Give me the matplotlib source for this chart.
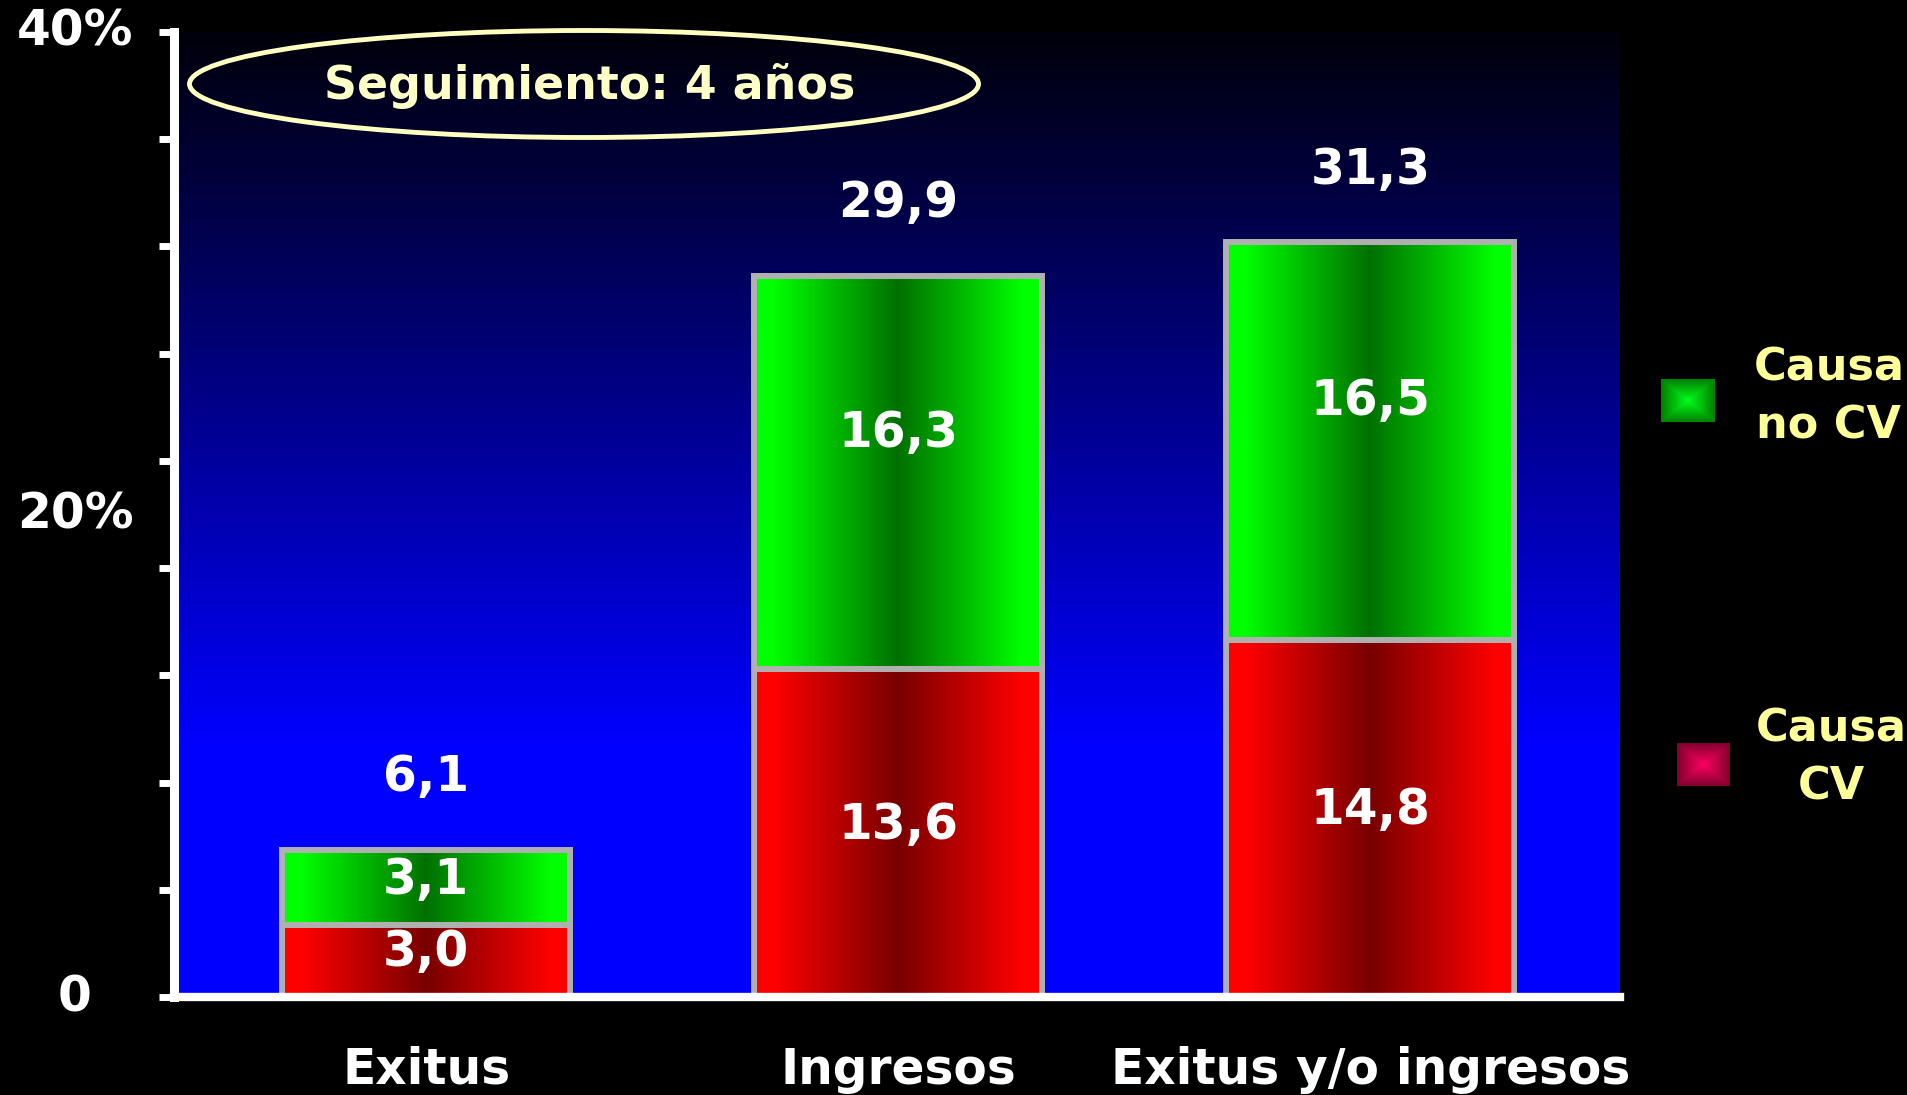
import numpy as np
import matplotlib
matplotlib.use("Agg")
import matplotlib.pyplot as plt
from matplotlib import transforms
from matplotlib.patches import Ellipse

# ---- data ----
categories = ["Exitus", "Ingresos", "Exitus y/o ingresos"]
causa_cv = [3.0, 13.6, 14.8]
causa_no_cv = [3.1, 16.3, 16.5]
totals = [6.1, 29.9, 31.3]
series_names = ["Causa\nCV", "Causa\nno CV"]
y_tick_values = [0, 20, 40]
y_tick_texts = ["0", "20%", "40%"]
title_text = "Seguimiento: 4 años"

plt.rcParams['font.family'] = ['DejaVu Sans']

W, H = 1908, 1095
fig = plt.figure(figsize=(W / 100, H / 100), dpi=100, facecolor='black')
ax = fig.add_axes([174 / W, 1 - 997 / H, (1620 - 174) / W, (997 - 32) / H])
ax.set_facecolor('black')

# background vertical gradient (dark navy top -> blue bottom)
t = np.linspace(0, 1, 400)  # 0 top -> 1 bottom
b = np.clip(0.04 + t * 1.3, 0, 1)
bg = np.zeros((400, 2, 3))
bg[:, :, 2] = b[:, None]
ax.imshow(bg, extent=[0, 1, 0, 1], transform=ax.transAxes, aspect='auto',
          zorder=0, interpolation='bilinear')


def hgrad(bright, dark, n=300):
    u = np.linspace(0, 1, n)
    d = np.clip(np.abs(u - 0.5) * 2 * 1.15, 0, 1)
    bright = np.array(bright); dark = np.array(dark)
    row = dark[None, :] + (bright - dark)[None, :] * d[:, None]
    return np.repeat(row[None, :, :], 2, axis=0)


red_grad = hgrad((1.0, 0.0, 0.0), (0.47, 0.0, 0.0))
green_grad = hgrad((0.0, 1.0, 0.0), (0.0, 0.44, 0.0))

x = np.arange(len(categories))
width = 0.61
edge = '#B0B0B0'
bars_cv = ax.bar(x, causa_cv, width, facecolor='none', edgecolor=edge,
                 linewidth=4.3, zorder=3)
bars_ncv = ax.bar(x, causa_no_cv, width, bottom=causa_cv, facecolor='none',
                  edgecolor=edge, linewidth=4.3, zorder=3)
for bars, grad in ((bars_cv, red_grad), (bars_ncv, green_grad)):
    for r in bars:
        x0, y0 = r.get_x(), r.get_y()
        ax.imshow(grad, extent=[x0, x0 + r.get_width(), y0, y0 + r.get_height()],
                  aspect='auto', zorder=2, interpolation='bilinear')

fmt = lambda v: f"{v:.1f}".replace('.', ',')
lab_kw = dict(color='white', fontsize=35, fontweight='bold', ha='center',
              va='center', zorder=5)
for i in range(len(categories)):
    ax.text(x[i], causa_cv[i] * 0.5 + 0.35, fmt(causa_cv[i]), **lab_kw)
    ax.text(x[i], causa_cv[i] + causa_no_cv[i] * 0.6, fmt(causa_no_cv[i]), **lab_kw)
    ax.text(x[i], totals[i] + 3.0, fmt(totals[i]), **lab_kw)

ax.set_xlim(-0.534, 2.529)
ax.set_ylim(0, 40)

# spines / ticks
for s in ('top', 'right'):
    ax.spines[s].set_visible(False)
ax.spines['left'].set_color('white')
ax.spines['left'].set_linewidth(6.5)
ax.spines['bottom'].set_color('white')
ax.spines['bottom'].set_linewidth(6)
ax.spines['left'].set_zorder(6)
ax.spines['bottom'].set_zorder(6)

ax.set_yticks(np.linspace(0, 40, 10))
ax.set_yticklabels([])
ax.tick_params(axis='y', direction='out', length=11, width=5, color='white')
trans_y = transforms.blended_transform_factory(ax.transAxes, ax.transData)
for v, s in zip(y_tick_values, y_tick_texts):
    ax.text(-0.0685, v, s, transform=trans_y, color='white', fontsize=35,
            fontweight='bold', ha='center', va='center', clip_on=False)

ax.set_xticks(x)
ax.set_xticklabels(categories, color='white', fontsize=35, fontweight='bold')
ax.tick_params(axis='x', length=0, pad=35)

# title ellipse
fig.add_artist(Ellipse((584 / W, 1 - 84 / H), 789 / W, 107 / H,
                       transform=fig.transFigure, fill=False,
                       edgecolor='#FFFFC0', linewidth=3.5))
fig.text(590 / W, 1 - 86 / H, title_text, color='#FFFFC8', fontsize=33,
         fontweight='bold', ha='center', va='center')


# legend
def box_grad(center, edgec, n=60):
    u = np.linspace(-1, 1, n)
    U, V = np.meshgrid(u, u)
    d = np.maximum(np.abs(U), np.abs(V))
    c = np.array(center); e = np.array(edgec)
    return c[None, None, :] + (e - c)[None, None, :] * d[:, :, None]


legend_items = [
    (series_names[1], box_grad((0.0, 1.0, 0.1), (0.0, 0.5, 0.0)),
     (1661, 379, 54, 43), (1829, 397)),
    (series_names[0], box_grad((1.0, 0.0, 0.38), (0.5, 0.0, 0.18)),
     (1677, 743, 53, 43), (1831, 758)),
]
for name, img, (lx, ly, lw, lh), (tx, ty) in legend_items:
    lax = fig.add_axes([lx / W, 1 - (ly + lh) / H, lw / W, lh / H])
    lax.imshow(img, aspect='auto', interpolation='bilinear')
    lax.axis('off')
    fig.text(tx / W, 1 - ty / H, name, color='#FFFF99', fontsize=32,
             fontweight='bold', ha='center', va='center', linespacing=1.45)

fig.savefig('out.png', dpi=100, facecolor='black')
